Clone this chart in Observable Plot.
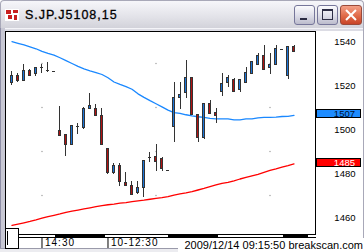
<!DOCTYPE html>
<html><head><meta charset="utf-8">
<script src="https://cdn.jsdelivr.net/npm/d3@7"></script>
<script src="https://cdn.jsdelivr.net/npm/@observablehq/plot@0.6"></script>
<style>
html,body{margin:0;padding:0;background:#fff;}
#win{position:relative;width:364px;height:252px;overflow:hidden;background:#fff;font-family:"Liberation Sans",Arial,sans-serif;}
#chart{position:absolute;left:0;top:0;}
.abs{position:absolute;box-sizing:border-box;}
</style></head><body><div id="win"><div id="chart"></div></div>
<script>
const title = "S.JP.J5108,15";
const footer = "2009/12/14 09:15:50 breakscan.com";
const opens  = [1521.0,1524.5,1522.1,1526.4,1525.3,1528.0,1527.0,1526.4,1499.4,1497.3,1492.9,1501.4,1500.9,1509.4,1509.5,1506.2,1491.2,1480.1,1483.2,1475.5,1474.5,1471.2,1473.2,1487.3,1487.3,1486.4,1481.2,1501.0,1514.2,1516.4,1523.2,1506.4,1496.0,1511.4,1507.3,1517.0,1521.0,1522.3,1517.9,1521.0,1525.1,1529.2,1533.2,1527.9,1529.2,1536.2,1524.2,1537.3];
const highs  = [1526.4,1525.3,1529.4,1527.3,1528.0,1529.4,1530.6,1526.4,1510.5,1497.3,1501.4,1502.7,1510.1,1516.4,1511.2,1509.5,1491.2,1484.4,1484.5,1480.5,1476.5,1476.4,1485.5,1489.4,1493.0,1487.3,1481.2,1521.5,1521.5,1531.4,1523.2,1506.4,1511.4,1513.2,1509.5,1525.5,1524.5,1523.2,1522.3,1528.2,1530.5,1534.5,1538.2,1534.5,1538.2,1536.2,1537.3,1538.2];
const lows   = [1520.1,1521.2,1522.1,1524.4,1524.2,1525.5,1526.1,1526.4,1497.0,1487.9,1492.9,1497.7,1500.1,1509.4,1506.2,1492.9,1479.4,1479.4,1474.2,1474.2,1470.1,1470.5,1469.2,1485.1,1481.0,1481.0,1481.2,1494.2,1509.2,1514.2,1506.4,1494.2,1495.3,1507.0,1502.9,1515.1,1519.2,1517.0,1517.0,1521.0,1525.1,1529.2,1527.1,1525.1,1529.2,1536.2,1522.9,1535.1];
const closes = [1524.5,1521.9,1526.4,1524.4,1528.0,1528.0,1527.0,1526.4,1497.0,1492.9,1501.4,1501.4,1509.5,1510.5,1506.2,1492.9,1480.1,1483.2,1476.0,1474.2,1470.1,1473.2,1485.5,1487.3,1485.1,1482.1,1481.2,1514.5,1515.5,1523.2,1506.4,1496.0,1511.4,1507.0,1506.0,1520.5,1523.2,1517.0,1522.3,1525.5,1530.5,1533.2,1527.1,1529.5,1536.4,1536.2,1537.3,1535.1];
const maBlue = [1539.9,1539.2,1538.5,1537.6,1536.7,1535.5,1534.6,1533.8,1532.6,1531.3,1530.0,1528.7,1527.6,1526.7,1525.9,1525.0,1523.5,1521.6,1520.5,1519.5,1518.3,1516.2,1514.6,1513.1,1511.7,1510.3,1508.8,1507.7,1507.3,1506.7,1506.2,1505.8,1505.5,1505.1,1504.8,1504.8,1504.8,1504.4,1504.4,1504.8,1504.8,1505.3,1505.5,1505.5,1505.6,1505.9,1506.0,1506.4];
const maRed  = [1456.4,1457.0,1457.6,1458.2,1458.9,1459.7,1460.4,1461.0,1461.6,1462.3,1462.9,1463.4,1463.9,1464.4,1464.9,1465.4,1465.8,1466.1,1466.5,1466.8,1467.2,1467.6,1467.9,1468.3,1468.7,1469.0,1469.5,1470.2,1470.7,1471.2,1471.8,1472.5,1473.2,1474.0,1474.8,1475.5,1476.0,1476.7,1477.5,1478.2,1478.9,1479.6,1480.5,1481.4,1482.1,1482.9,1483.6,1484.4];
const priceTicks = [1460,1480,1500,1520,1540];
const gridPrices = [1530,1510,1490,1470];
const gridIdx = [5,24,43];
const timeTickIdx = [5,16];
const timeTickLabels = ["14:30","10-12:30"];
const lastBlue = 1507, lastRed = 1485;

const UP = "#1a74d8", DOWN = "#b01212", EDGE = "#333";
const candles = opens.map((o,i)=>({i,o,h:highs[i],l:lows[i],c:closes[i]}));
const blueLine = maBlue.map((v,i)=>({i,v}));
const redLine = maRed.map((v,i)=>({i,v}));
const grid = gridIdx.flatMap(i=>gridPrices.map(v=>({i,v})));

const chart = Plot.plot({
  width:364, height:252,
  marginLeft:5, marginRight:49, marginTop:31, marginBottom:18,
  x:{type:"linear", domain:[-1.0833,50.5833]},
  y:{type:"linear", domain:[1452.273,1544.545]},
  style:{background:"transparent", fontFamily:"'Liberation Sans',Arial,sans-serif", color:"#000"},
  marks:[
    Plot.dot(grid,{x:"i",y:"v",r:0.7,fill:"#999",stroke:null}),
    Plot.line(blueLine,{x:"i",y:"v",stroke:"#1a88ff",strokeWidth:1.3}),
    Plot.line(redLine,{x:"i",y:"v",stroke:"#ff0000",strokeWidth:1.3}),
    Plot.ruleX(candles.filter(d=>d.h>d.l),{x:"i",y1:"l",y2:"h",stroke:EDGE,strokeWidth:1,shapeRendering:"crispEdges"}),
    Plot.rect(candles.filter(d=>d.c>d.o),{x1:d=>d.i-1/6,x2:d=>d.i+1/6,y1:"o",y2:"c",fill:UP,stroke:EDGE,strokeWidth:1,shapeRendering:"crispEdges"}),
    Plot.rect(candles.filter(d=>d.c<d.o),{x1:d=>d.i-1/6,x2:d=>d.i+1/6,y1:"o",y2:"c",fill:DOWN,stroke:EDGE,strokeWidth:1,shapeRendering:"crispEdges"}),
    Plot.ruleY(candles.filter(d=>d.c===d.o),{y:"o",x1:d=>d.i-0.25,x2:d=>d.i+0.25,stroke:EDGE,strokeWidth:1,shapeRendering:"crispEdges"}),
    Plot.frame({stroke:"#000"}),
    Plot.axisY(priceTicks,{anchor:"right",tickSize:0,tickPadding:40,textAnchor:"end",fontSize:9.5,fill:"#000",label:null,tickFormat:d=>String(d)}),
    Plot.axisX(timeTickIdx,{anchor:"bottom",tickSize:11,dy:3,tickFormat:()=>"",stroke:"#000",label:null}),
    Plot.axisX(timeTickIdx,{anchor:"bottom",tickSize:0,tickPadding:4,dx:3,textAnchor:"start",fontSize:10,fill:"#000",
      tickFormat:d=>timeTickLabels[timeTickIdx.indexOf(d)],label:null})
  ]
});
chart.querySelectorAll("g[aria-label='x-axis tick label'] text").forEach(t=>t.setAttribute("letter-spacing","1"));
document.getElementById("chart").appendChild(chart);

const win = document.getElementById("win");
function box(css, html){const d=document.createElement("div");d.className="abs";d.style.cssText=css;if(html!==undefined)d.innerHTML=html;win.appendChild(d);return d;}
// window chrome
box("left:0;top:0;width:364px;height:28px;background:linear-gradient(#f6f6fa,#e2e2e8 60%,#d2d2da);border:1px solid #a8a8b8;border-bottom:none;border-radius:4px 4px 0 0;");
box("left:0;top:28px;width:364px;height:3px;background:#dcdce4;border-top:1px solid #f4f4f8;");
box("left:0;top:28px;width:5px;height:221px;background:#c8c8d4;border-left:1px solid #8e8ea6;");
box("left:363px;top:28px;width:1px;height:221px;background:#a8a8b8;");
box("left:0;top:248px;width:180px;height:1px;background:#9a9aaa;");
box("left:0;top:249px;width:180px;height:3px;background:#ececf0;");
// icon
box("left:5px;top:9px;width:14px;height:12px;background:#fff;");
box("left:6px;top:10px;width:5px;height:4px;background:#c82020;");
box("left:13px;top:10px;width:5px;height:3px;background:#c82020;");
box("left:8px;top:15px;width:4px;height:4px;background:#c82020;");
box("left:14px;top:15px;width:3px;height:5px;background:#c82020;");
// title
box("left:25px;top:7px;height:16px;font:12.5px 'Liberation Sans',Arial,sans-serif;letter-spacing:1px;color:#000;line-height:16px;white-space:nowrap;-webkit-text-stroke:0.3px #000;", title);
// buttons
const btn = "top:5px;width:21px;height:20px;border:1px solid #76769a;border-radius:3px;background:linear-gradient(#fbfbfd,#dcdce8 55%,#bcbccc);";
box("left:294px;"+btn);
box("left:300px;top:18px;width:7px;height:2px;background:#2c2c44;");
box("left:317px;"+btn);
box("left:322px;top:9px;width:11px;height:11px;border:1px solid #2c2c44;border-top-width:2px;");
box("left:340px;top:5px;width:22px;height:20px;border:1px solid #9a4a3a;border-radius:3px;background:linear-gradient(#f4a088,#e06a48 55%,#c84428);");
box("left:344px;top:14px;width:14px;height:2px;background:#fff;transform:rotate(45deg);");
box("left:344px;top:14px;width:14px;height:2px;background:#fff;transform:rotate(-45deg);");
// scroll bar and corner box
box("left:18px;top:234px;width:298px;height:4px;border-top:1px solid #000;border-bottom:1px solid #000;background:#fff;");
box("left:55px;top:234px;width:50px;height:4px;background:#000;");
box("left:168px;top:234px;width:50px;height:4px;background:#000;");
box("left:283px;top:234px;width:25px;height:4px;background:#000;");
box("left:5px;top:228px;width:14px;height:21px;border:1px solid #000;background:#fff;");
box("left:7px;top:231px;width:1px;height:14px;background:#000;");
// last value labels
const ys = chart.scale("y");
box(`left:316px;top:${ys.apply(lastBlue)-4.5}px;width:45px;height:9px;border:1px solid #000;background:#1e8cff;color:#001030;font-size:9.5px;line-height:7px;text-align:right;padding-right:5px;`, String(lastBlue));
box(`left:316px;top:${ys.apply(lastRed)-4.5}px;width:45px;height:9px;border:1px solid #000;background:#ff0000;color:#fff;font-size:9.5px;line-height:7px;text-align:right;padding-right:5px;`, String(lastRed));
// footer
box("left:178px;top:238px;width:186px;height:14px;background:#fff;font-size:11px;line-height:14px;text-align:right;padding-right:1px;white-space:nowrap;color:#000;", footer);
</script></body></html>
